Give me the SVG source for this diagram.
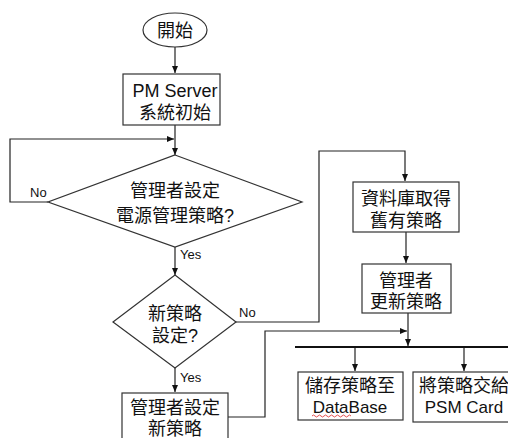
<svg xmlns="http://www.w3.org/2000/svg" width="508" height="438" viewBox="0 0 508 438">
<defs>
<marker id="arr" markerWidth="8" markerHeight="8" refX="7" refY="4" orient="auto" markerUnits="userSpaceOnUse">
<path d="M0,1 L7,4 L0,7 Z" fill="#111"/>
</marker>
<style>
.shape{fill:#fff;stroke:#333;stroke-width:1.2}
.t{font-family:"Liberation Sans","Noto Sans CJK TC",sans-serif;font-size:18px;fill:#111;text-anchor:middle}
.s{font-family:"Liberation Sans",sans-serif;font-size:13px;fill:#111}
.c{fill:none;stroke:#222;stroke-width:1.2}
</style>
</defs>
<rect width="508" height="438" fill="#fff"/>
<g id="connectors">
<path class="c" d="M175,47 V73" marker-end="url(#arr)"/>
<path class="c" d="M175,125 V155" marker-end="url(#arr)"/>
<path class="c" d="M48,202 H10 V139 H174" marker-end="url(#arr)"/>
<path class="c" d="M175,247 V275" marker-end="url(#arr)"/>
<path class="c" d="M236,322 H319 V151 H405 V181" marker-end="url(#arr)"/>
<path class="c" d="M175,368 V392" marker-end="url(#arr)"/>
<path class="c" d="M228,417 H265 V331 H407" marker-end="url(#arr)"/>
<path class="c" d="M406,232 V263" marker-end="url(#arr)"/>
<path class="c" d="M408,313 V346" marker-end="url(#arr)"/>
<path d="M295,347 H508" stroke="#111" stroke-width="2.2" fill="none"/>
<path class="c" d="M355,348 V371" marker-end="url(#arr)"/>
<path class="c" d="M464,348 V371" marker-end="url(#arr)"/>
<text class="s" x="30" y="197">No</text>
<text class="s" x="180" y="259">Yes</text>
<text class="s" x="239" y="317">No</text>
<text class="s" x="180" y="382">Yes</text>
</g>
<g id="start">
<ellipse class="shape" cx="175" cy="30" rx="32" ry="17"/>
<text class="t" x="175" y="37">開始</text>
</g>
<g id="init">
<rect class="shape" x="123" y="74" width="97" height="51"/>
<text class="t" x="175" y="97">PM Server</text>
<text class="t" x="175" y="119">系統初始</text>
</g>
<g id="decision1">
<polygon class="shape" points="175,155 302,202 175,247 48,202"/>
<text class="t" x="175" y="197">管理者設定</text>
<text class="t" x="175" y="222">電源管理策略?</text>
</g>
<g id="decision2">
<polygon class="shape" points="175,275 236,322 175,368 113,322"/>
<text class="t" x="175" y="320">新策略</text>
<text class="t" x="175" y="342">設定?</text>
</g>
<g id="setnew">
<rect class="shape" x="122" y="393" width="106" height="60"/>
<text class="t" x="175" y="414">管理者設定</text>
<text class="t" x="175" y="435">新策略</text>
</g>
<g id="dbget">
<rect class="shape" x="353" y="182" width="106" height="50"/>
<text class="t" x="406" y="205">資料庫取得</text>
<text class="t" x="406" y="227">舊有策略</text>
</g>
<g id="update">
<rect class="shape" x="362" y="264" width="89" height="49"/>
<text class="t" x="406" y="287">管理者</text>
<text class="t" x="406" y="308">更新策略</text>
</g>
<g id="savedb">
<rect class="shape" x="298" y="372" width="105" height="48"/>
<text class="t" x="350" y="392">儲存策略至</text>
<text class="t" x="350" y="413" style="font-size:17px">DataBase</text>
<path d="M312,416 q1.5,-2 3,0 t3,0 t3,0 t3,0 t3,0 t3,0 t3,0 t3,0 t3,0 t3,0 t3,0 t3,0 t3,0" fill="none" stroke="#d22" stroke-width="0.8"/>
</g>
<g id="psm">
<rect class="shape" x="413" y="372" width="105" height="50"/>
<text class="t" x="464" y="392">將策略交給</text>
<text class="t" x="464" y="413" style="font-size:17px">PSM Card</text>
</g>
</svg>
